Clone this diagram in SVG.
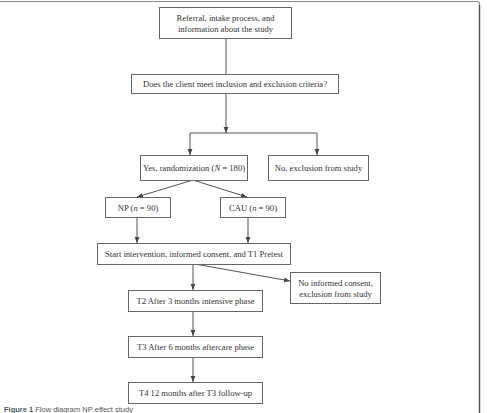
<svg xmlns="http://www.w3.org/2000/svg" width="487" height="413" viewBox="0 0 487 413">
<style>
.box{fill:#fff;stroke:#666;stroke-width:1}
.t{font-family:"Liberation Serif","Times New Roman",serif;font-size:8.6px;fill:#333;text-anchor:middle;dominant-baseline:central}
.ln{stroke:#555;stroke-width:1;fill:none}
.cap{font-family:"Liberation Sans",Arial,sans-serif;font-size:7.5px;fill:#555}
</style>
<defs>
<marker id="ah" viewBox="0 0 6 6" refX="6" refY="3" markerWidth="6" markerHeight="6" markerUnits="userSpaceOnUse" orient="auto">
<path d="M0,0.6 L6,3 L0,5.4 Z" fill="#444"/>
</marker>
</defs>
<rect width="487" height="413" fill="#fff"/>
<g id="frame">
<path d="M0,1.5 H477 Q479.5,1.5 479.5,4 V413" fill="none" stroke="#888" stroke-width="1.2"/>
<path d="M479.5,5 V413" fill="none" stroke="#555" stroke-width="1.4"/>
</g>
<g id="connectors">
<line class="ln" x1="226" y1="38" x2="226" y2="74"/>
<line class="ln" x1="226" y1="93" x2="226" y2="133" marker-end="url(#ah)"/>
<line class="ln" x1="190" y1="133" x2="317" y2="133"/>
<line class="ln" x1="190" y1="133" x2="190" y2="155" marker-end="url(#ah)"/>
<line class="ln" x1="317" y1="133" x2="317" y2="155" marker-end="url(#ah)"/>
<line class="ln" x1="193" y1="180" x2="137" y2="197" marker-end="url(#ah)"/>
<line class="ln" x1="193" y1="180" x2="247" y2="197" marker-end="url(#ah)"/>
<line class="ln" x1="137" y1="218" x2="137" y2="243" marker-end="url(#ah)"/>
<line class="ln" x1="248" y1="218" x2="248" y2="243" marker-end="url(#ah)"/>
<line class="ln" x1="193" y1="264" x2="193" y2="290" marker-end="url(#ah)"/>
<line class="ln" x1="195" y1="264" x2="290" y2="281" marker-end="url(#ah)"/>
<line class="ln" x1="193" y1="311" x2="193" y2="336" marker-end="url(#ah)"/>
<line class="ln" x1="193" y1="357" x2="193" y2="382" marker-end="url(#ah)"/>
</g>
<g id="referral">
<rect class="box" x="159.5" y="7.5" width="132" height="31"/>
<text class="t" x="225.5" y="18">Referral, intake process, and</text>
<text class="t" x="225.5" y="29">information about the study</text>
</g>
<g id="criteria">
<rect class="box" x="131.5" y="74.5" width="207" height="19"/>
<text class="t" x="235" y="84">Does the client meet inclusion and exclusion criteria?</text>
</g>
<g id="yes">
<rect class="box" x="140.5" y="155.5" width="107" height="25"/>
<text class="t" x="194" y="168">Yes, randomization (<tspan font-style="italic">N</tspan> = 180)</text>
</g>
<g id="no">
<rect class="box" x="268.5" y="155.5" width="100" height="25"/>
<text class="t" x="318.5" y="168">No, exclusion from study</text>
</g>
<g id="np">
<rect class="box" x="105.5" y="197.5" width="65" height="20"/>
<text class="t" x="138" y="207.5">NP (<tspan font-style="italic">n</tspan> = 90)</text>
</g>
<g id="cau">
<rect class="box" x="220.5" y="197.5" width="65" height="20"/>
<text class="t" x="253" y="207.5">CAU (<tspan font-style="italic">n</tspan> = 90)</text>
</g>
<g id="start">
<rect class="box" x="97.5" y="243.5" width="193" height="21"/>
<text class="t" x="194" y="254">Start intervention, informed consent, and T1 Pretest</text>
</g>
<g id="noconsent">
<rect class="box" x="290.5" y="272.5" width="90" height="31"/>
<text class="t" x="335.5" y="283">No informed consent,</text>
<text class="t" x="335.5" y="294">exclusion from study</text>
</g>
<g id="t2">
<rect class="box" x="128.5" y="290.5" width="134" height="21"/>
<text class="t" x="195.5" y="301">T2 After 3 months intensive phase</text>
</g>
<g id="t3">
<rect class="box" x="128.5" y="336.5" width="134" height="21"/>
<text class="t" x="195.5" y="347">T3 After 6 months aftercare phase</text>
</g>
<g id="t4">
<rect class="box" x="128.5" y="382.5" width="134" height="21"/>
<text class="t" x="195.5" y="393">T4 12 months after T3 follow-up</text>
</g>
<g id="caption">
<text class="cap" x="4" y="411.5"><tspan font-weight="bold" fill="#4a5a6a">Figure 1</tspan> Flow diagram NP effect study</text>
</g>
</svg>
